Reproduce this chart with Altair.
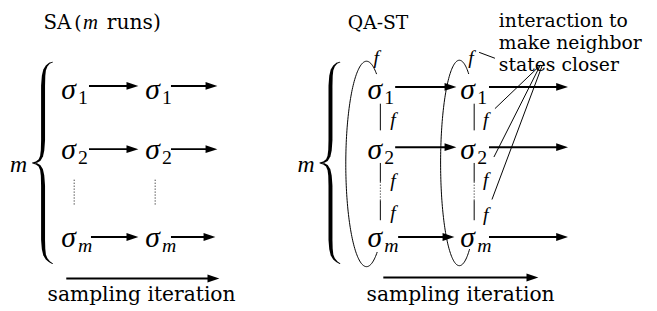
import altair as alt
import numpy as np
import pandas as pd

# ---------------- data (reference pixel coordinates) ----------------
# upright text
txt_norm = ["SA", "(", "runs)", "QA-ST", "sampling iteration", "sampling iteration",
            "interaction to", "make neighbor", "states closer"]
txt_norm_x = [44, 75, 108, 352, 48, 371, 505, 505, 505]
txt_norm_y = [27, 27, 27, 27, 303, 303, 25, 48, 70]
txt_norm_s = [20, 19, 20.5, 19, 20.5, 20.5, 19, 19, 19]

# italic math letters (m, f)
txt_ital = ["m", "m", "m", "f", "f", "f", "f", "f", "f", "f", "f"]
txt_ital_x = [84, 10, 301, 378, 474, 395, 395, 395, 489, 489, 489]
txt_ital_y = [27, 172, 172, 63, 63, 126, 187, 220, 126, 186, 222]
txt_ital_s = [21, 24, 24, 20, 20, 20, 20, 20, 20, 20, 20]

# sigma grid
sigma_col_x = [62, 147, 372, 466]
sigma_row_y = [98, 159, 248]
sigma_sub = ["1", "2", "m"]
sub_dx = 17
sub_dy = 5

# thick arrows
arrow_x0 = [90, 173, 90, 173, 92, 173, 400, 495, 400, 495, 403, 495, 67, 388]
arrow_x1 = [140, 220, 140, 220, 140, 218, 462, 575, 462, 575, 460, 575, 222, 545]
arrow_y = [85, 85, 149, 149, 238, 238, 86, 86, 147, 147, 238, 238, 280, 279]

# thin solid segments
seg_x0 = [385, 385, 385, 480, 480, 480, 547, 547, 549, 485]
seg_y0 = [103, 163, 201, 103, 163, 201, 64, 64, 64, 51]
seg_x1 = [385, 385, 385, 480, 480, 480, 501, 500, 498, 501]
seg_y1 = [130, 182, 221, 130, 182, 221, 108, 157, 200, 57]

# dotted segments
dot_x0 = [75, 157, 385, 480]
dot_y0 = [180, 180, 182, 182]
dot_y1 = [205, 205, 201, 201]

# curly brace (left), right one shifted
brace_x = [53, 50, 47, 45, 44, 43.5, 43.5, 43, 42, 40, 37, 33, 37, 40, 42, 43, 43.5, 43.5, 44, 45, 47, 50, 53]
brace_y = [61, 62, 65, 69, 75, 85, 140, 150, 156, 160, 162, 163, 164, 166, 170, 176, 186, 241, 250, 256, 260, 263, 265]
brace_w = [0.8, 1.2, 2, 2.8, 3.5, 4, 4, 3.5, 3, 2.3, 1.7, 1.2, 1.7, 2.3, 3, 3.5, 4, 4, 3.5, 2.8, 2, 1.2, 0.8]
brace_shift = [0, 291]

# open ellipses (center, radii, start/end angle in degrees)
ell_cx = [371, 465]
ell_cy = [164, 163]
ell_rx = [21, 19]
ell_ry = [104, 104]
ell_t0 = [-61, -60]
ell_t1 = [-301, -303]

# ---------------- build tables ----------------
norm_df = pd.DataFrame({"t": txt_norm, "x": txt_norm_x, "y": txt_norm_y, "s": txt_norm_s})
ital_df = pd.DataFrame({"t": txt_ital, "x": txt_ital_x, "y": txt_ital_y, "s": txt_ital_s})

sig_rows, sub_rows_up, sub_rows_it = [], [], []
for cx in sigma_col_x:
    for ry, sub in zip(sigma_row_y, sigma_sub):
        sig_rows.append({"t": "σ", "x": cx, "y": ry})
        rec = {"t": sub, "x": cx + sub_dx, "y": ry + sub_dy}
        (sub_rows_it if sub == "m" else sub_rows_up).append(rec)
sig_df = pd.DataFrame(sig_rows)
subu_df = pd.DataFrame(sub_rows_up)
subi_df = pd.DataFrame(sub_rows_it)

arr_df = pd.DataFrame({"x0": arrow_x0, "x1": arrow_x1, "y": arrow_y})
arr_df["xe"] = arr_df["x1"] - 8
seg_df = pd.DataFrame({"x0": seg_x0, "y0": seg_y0, "x1": seg_x1, "y1": seg_y1})
dot_df = pd.DataFrame({"x0": dot_x0, "y0": dot_y0, "y1": dot_y1})

br_rows = []
for k, sh in enumerate(brace_shift):
    for i, (bx, by, bw) in enumerate(zip(brace_x, brace_y, brace_w)):
        br_rows.append({"g": k, "o": i, "x": bx + sh, "y": by, "w": bw})
br_df = pd.DataFrame(br_rows)

el_rows = []
for k in range(len(ell_cx)):
    ts = np.linspace(ell_t0[k], ell_t1[k], 140)
    for i, t in enumerate(np.radians(ts)):
        el_rows.append({"g": k, "o": i,
                        "x": ell_cx[k] + ell_rx[k] * np.cos(t),
                        "y": ell_cy[k] + ell_ry[k] * np.sin(t)})
el_df = pd.DataFrame(el_rows)

# ---------------- scales ----------------
xs = alt.Scale(domain=[8, 657], range=[0, 649])
ys = alt.Scale(domain=[8, 311], range=[0, 303])


def X(f):
    return alt.X(f, type="quantitative", scale=xs, axis=None)


def Y(f):
    return alt.Y(f, type="quantitative", scale=ys, axis=None)


ellipses = alt.Chart(el_df).mark_line(color="black", strokeWidth=1).encode(
    x=X("x"), y=Y("y"), detail="g:N", order="o:Q")

braces = alt.Chart(br_df).mark_trail(color="black").encode(
    x=X("x"), y=Y("y"), detail="g:N", order="o:Q",
    size=alt.Size("w:Q", scale=None))

arrow_lines = alt.Chart(arr_df).mark_rule(color="black", strokeWidth=2).encode(
    x=X("x0"), x2=alt.X2("xe"), y=Y("y"))

arrow_heads = alt.Chart(arr_df).mark_point(
    shape="M0,0L-1,-0.33L-1,0.33Z", filled=True, color="black", opacity=1,
    size=576, strokeWidth=0).encode(x=X("x1"), y=Y("y"))

segs = alt.Chart(seg_df).mark_rule(color="black", strokeWidth=1).encode(
    x=X("x0"), y=Y("y0"), x2=alt.X2("x1"), y2=alt.Y2("y1"))

dots = alt.Chart(dot_df).mark_rule(color="black", strokeWidth=1, strokeDash=[1, 2]).encode(
    x=X("x0"), y=Y("y0"), y2=alt.Y2("y1"))

norm_txt = alt.Chart(norm_df).mark_text(
    font="DejaVu Serif", align="left", baseline="alphabetic", color="black").encode(
    x=X("x"), y=Y("y"), text="t:N", size=alt.Size("s:Q", scale=None))

ital_txt = alt.Chart(ital_df).mark_text(
    font="Liberation Serif", fontStyle="italic", align="left", baseline="alphabetic",
    color="black").encode(
    x=X("x"), y=Y("y"), text="t:N", size=alt.Size("s:Q", scale=None))

sig_txt = alt.Chart(sig_df).mark_text(
    font="Liberation Serif", fontStyle="italic", fontSize=30, align="left",
    baseline="alphabetic", color="black").encode(x=X("x"), y=Y("y"), text="t:N")

subu_txt = alt.Chart(subu_df).mark_text(
    font="Liberation Serif", fontSize=20, align="left",
    baseline="alphabetic", color="black").encode(x=X("x"), y=Y("y"), text="t:N")

subi_txt = alt.Chart(subi_df).mark_text(
    font="Liberation Serif", fontStyle="italic", fontSize=20, align="left",
    baseline="alphabetic", color="black").encode(x=X("x"), y=Y("y"), text="t:N")

chart = alt.layer(
    ellipses, braces, arrow_lines, arrow_heads, segs, dots,
    norm_txt, ital_txt, sig_txt, subu_txt, subi_txt
).properties(
    width=649, height=303, padding=0, background="white",
    autosize=alt.AutoSizeParams(type="none")
).configure_view(strokeWidth=0)

chart.save("out.html", embed_options={"renderer": "svg", "actions": False})
